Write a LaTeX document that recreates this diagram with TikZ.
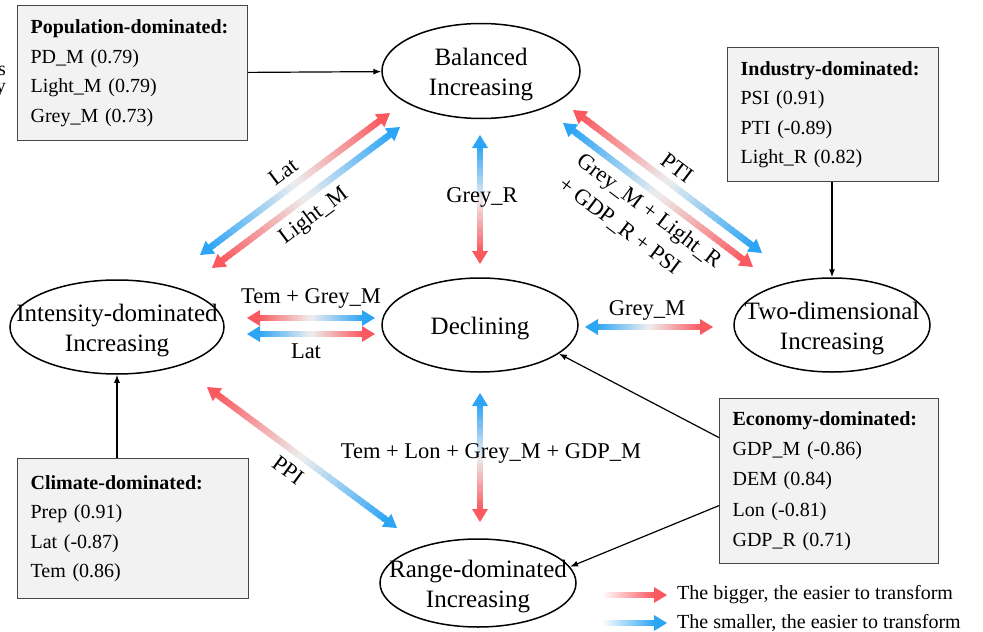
\documentclass[tikz,border=0pt]{standalone}
\usepackage{fontspec}
\setmainfont{Liberation Serif}
\usetikzlibrary{calc,arrows.meta,shapes.geometric}
\definecolor{gred}{RGB}{250,90,95}
\definecolor{gblue}{RGB}{45,165,245}
\definecolor{gmid}{RGB}{238,238,238}
\definecolor{boxfill}{RGB}{242,242,242}
\definecolor{boxline}{RGB}{70,70,70}

% gradient double arrow: #1 -> #2, colour #3 at #1, colour #4 at #2
\newcommand\gradarrow[4]{%
  \coordinate (ga1) at ($(#1)!12pt!(#2)$);
  \coordinate (ga2) at ($(#2)!12pt!(#1)$);
  \foreach \k in {1,...,40}{%
    \pgfmathsetmacro\ta{(\k-1)/40}%
    \pgfmathsetmacro\tb{min(1,(\k+0.4)/40)}%
    \pgfmathsetmacro\tm{(\k-0.5)/40}%
    \ifdim\tm pt<0.5pt
      \pgfmathsetmacro\wa{100-200*\tm}%
      \colorlet{segc}{#3!\wa!gmid}%
    \else
      \pgfmathsetmacro\wa{200*\tm-100}%
      \colorlet{segc}{#4!\wa!gmid}%
    \fi
    \draw[segc, band] ($(ga1)!\ta!(ga2)$) -- ($(ga1)!\tb!(ga2)$);
  }
  \fill[#3] (#1) -- ($(#1)!13pt!(#2)!8pt!90:(#2)$) -- ($(#1)!13pt!(#2)!8pt!-90:(#2)$) -- cycle;
  \fill[#4] (#2) -- ($(#2)!13pt!(#1)!8pt!90:(#1)$) -- ($(#2)!13pt!(#1)!8pt!-90:(#1)$) -- cycle;
}
% legend arrow: fades from white at #1 to colour #3 at #2, head at #2
\newcommand\legarrow[3]{%
  \coordinate (la2) at ($(#2)!12pt!(#1)$);
  \foreach \k in {1,...,30}{%
    \pgfmathsetmacro\ta{(\k-1)/30}%
    \pgfmathsetmacro\tb{min(1,(\k+0.4)/30)}%
    \pgfmathsetmacro\wa{100*(\k-0.5)/30}%
    \colorlet{segc}{#3!\wa!white}%
    \draw[segc, band] ($(#1)!\ta!(la2)$) -- ($(#1)!\tb!(la2)$);
  }
  \fill[#3] (#2) -- ($(#2)!13pt!(#1)!8pt!90:(#1)$) -- ($(#2)!13pt!(#1)!8pt!-90:(#1)$) -- cycle;
}

\begin{document}
\begin{tikzpicture}[x=1pt,y=-1pt,
  band/.style={line width=6.5pt},
  ell/.style={draw, ellipse, line width=1.5pt, inner sep=0pt},
  etext/.style={font=\fontsize{25}{30}\selectfont, align=center, inner sep=0pt, yshift=-4pt},
  infobox/.style={draw=boxline, fill=boxfill, line width=1.2pt, align=left,
    font=\fontsize{20}{29.5}\selectfont, inner xsep=13pt, inner ysep=4pt, anchor=north west},
  lab/.style={font=\fontsize{22.5}{30}\selectfont, inner sep=0pt},
  legtext/.style={font=\fontsize{20}{24}\selectfont, anchor=west, inner sep=0pt},
  conn/.style={line width=1.2pt, -{Latex[length=8pt,width=6pt]}},
  frag/.style={font=\fontsize{20}{20}\selectfont, anchor=base east, inner sep=0pt}]
\useasboundingbox (0,0) rectangle (983,632);

% cut-off fragments at the left edge
\node[frag] (fs) at (6,75) {s};
\node[frag] (fy) at (6,92) {y};

% ellipses
\node[ell, minimum width=198pt, minimum height=95pt] (bal) at (481,71) {};
\node[etext] (baltxt) at (bal) {Balanced\\Increasing};
\node[ell, minimum width=196pt, minimum height=94pt] (decl) at (480,325) {};
\node[etext] (decltxt) at (decl) {Declining};
\node[ell, minimum width=214pt, minimum height=94pt] (int) at (117,327) {};
\node[etext] (inttxt) at (int) {Intensity-dominated\\Increasing};
\node[ell, minimum width=196pt, minimum height=94pt] (two) at (832,325) {};
\node[etext] (twotxt) at (two) {Two-dimensional\\Increasing};
\node[ell, minimum width=196pt, minimum height=88pt] (rng) at (478,583) {};
\node[etext] (rngtxt) at (rng) {Range-dominated\\Increasing};

% info boxes
\node[infobox, text width=204pt, minimum height=135pt] (pop) at (17,5)
  {\textbf{Population-dominated:}\\PD\_M (0.79)\\Light\_M (0.79)\\Grey\_M (0.73)};
\node[infobox, text width=185pt, minimum height=134pt] (ind) at (727,47)
  {\textbf{Industry-dominated:}\\PSI (0.91)\\PTI (-0.89)\\Light\_R (0.82)};
\node[infobox, text width=205pt, minimum height=140pt] (clim) at (17,458)
  {\textbf{Climate-dominated:}\\Prep (0.91)\\Lat (-0.87)\\Tem (0.86)};
\node[infobox, text width=193pt, minimum height=165pt, font=\fontsize{20}{30.2}\selectfont] (eco) at (719,398)
  {\textbf{Economy-dominated:}\\GDP\_M (-0.86)\\DEM (0.84)\\Lon (-0.81)\\GDP\_R (0.71)};

% black connectors
\draw[conn] (pop) -- (bal);
\draw[conn] (ind.south -| two.north) -- (two.north);
\draw[conn] (int.south |- clim.north) -- (int.south);
\draw[conn] ([yshift=43.5pt]eco.west) -- (decl.340);
\draw[conn] ([yshift=-24.5pt]eco.west) -- (rng.10);

% gradient arrow end points
\coordinate (a1r) at (390,113); \coordinate (a1b) at (200,255);
\coordinate (a2b) at (400,127); \coordinate (a2r) at (212,268);
\coordinate (a3b) at (480,135); \coordinate (a3r) at (480,264);
\coordinate (a4r) at (573,110); \coordinate (a4b) at (762,253);
\coordinate (a5b) at (563,123); \coordinate (a5r) at (753,267);
\coordinate (a6r) at (247,318); \coordinate (a6b) at (375,318);
\coordinate (a7b) at (247,334); \coordinate (a7r) at (375,334);
\coordinate (a8b) at (585,327); \coordinate (a8r) at (713,327);
\coordinate (a9b) at (480,393); \coordinate (a9r) at (480,522);
\coordinate (a10r) at (207,387); \coordinate (a10b) at (397,528);
\coordinate (l1a) at (602,595); \coordinate (l1b) at (667,595);
\coordinate (l2a) at (602,623); \coordinate (l2b) at (667,623);

\gradarrow{a1r}{a1b}{gred}{gblue}
\gradarrow{a2b}{a2r}{gblue}{gred}
\gradarrow{a3b}{a3r}{gblue}{gred}
\gradarrow{a4r}{a4b}{gred}{gblue}
\gradarrow{a5b}{a5r}{gblue}{gred}
\gradarrow{a6r}{a6b}{gred}{gblue}
\gradarrow{a7b}{a7r}{gblue}{gred}
\gradarrow{a8b}{a8r}{gblue}{gred}
\gradarrow{a9b}{a9r}{gblue}{gred}
\gradarrow{a10r}{a10b}{gred}{gblue}
\legarrow{l1a}{l1b}{gred}
\legarrow{l2a}{l2b}{gblue}

% arrow labels
\node[lab, rotate=36.8] (tlat1) at (283,172) {Lat};
\node[lab, rotate=36.8] (tlight) at (314,216) {Light\_M};
\node[lab] (tgreyr) at (482,197) {Grey\_R};
\node[lab, rotate=-37] (tpti) at (677,168) {PTI};
\node[lab, rotate=-37, align=left] (tmix) at (640,223) {Grey\_M + Light\_R\\+ GDP\_R + PSI};
\node[lab] (ttg) at (311,298) {Tem + Grey\_M};
\node[lab] (tlat2) at (306,351) {Lat};
\node[lab] (tgm) at (647,310) {Grey\_M};
\node[lab] (tlong) at (491,453) {Tem + Lon + Grey\_M + GDP\_M};
\node[lab, rotate=-36.6] (tppi) at (288,470) {PPI};

% legend
\node[legtext] (leg1) at (677,595) {The bigger, the easier to transform};
\node[legtext] (leg2) at (677,623) {The smaller, the easier to transform};
\end{tikzpicture}
\end{document}
